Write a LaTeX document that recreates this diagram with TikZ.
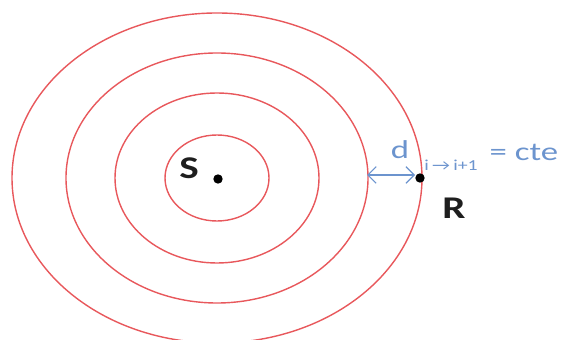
\documentclass[tikz,border=0pt]{standalone}
\usepackage{fontspec}
\setmainfont{Carlito}
\usepackage{tikz}
\usetikzlibrary{arrows.meta,positioning}
\definecolor{ringred}{RGB}{232,88,92}
\definecolor{labelblue}{RGB}{108,148,206}
\definecolor{ink}{RGB}{30,30,30}
\tikzset{
  ring/.style={draw=ringred,line width=1.2pt},
  dot/.style={circle,fill=black,inner sep=0pt,minimum size=8pt},
  bigtext/.style={font=\fontsize{27}{30}\selectfont\bfseries,text=ink,xscale=1.3},
  bluetext/.style={font=\fontsize{22}{24}\selectfont,text=labelblue,xscale=1.35},
  subtext/.style={font=\fontsize{13}{15}\selectfont,text=labelblue,xscale=1.3},
  dist/.style={{Straight Barb[length=2.5mm]}-{Straight Barb[length=2.5mm]},line width=1pt,draw=labelblue}
}
\begin{document}
\begin{tikzpicture}[x=0.03cm,y=0.03cm]
  \useasboundingbox (0,0) rectangle (562,340);

  % wave fronts around the source
  \draw[ring] (217,162) ellipse [x radius=205, y radius=165];
  \draw[ring] (217,162) ellipse [x radius=151, y radius=125];
  \draw[ring] (217,162) ellipse [x radius=102, y radius=85];
  \draw[ring] (217,162) ellipse [x radius=52, y radius=43];

  \node[dot] (src) at (218,161) {};
  \node[bigtext] (srclabel) at (189,172) {S};
  \node[dot] (rcv) at (420,162) {};
  \node[bigtext] (rcvlabel) at (454,132) {R};

  \coordinate (front) at (367,165);
  \draw[dist] (front) -- (rcv.west |- front);

  \node[bluetext] (dlabel) at (400,190) {d};
  \node[subtext] (sublabel) at (451,175) {i\,→\,i+1};
  \node[bluetext,anchor=west] (ctelabel) at (484,188) {= cte};
\end{tikzpicture}
\end{document}
